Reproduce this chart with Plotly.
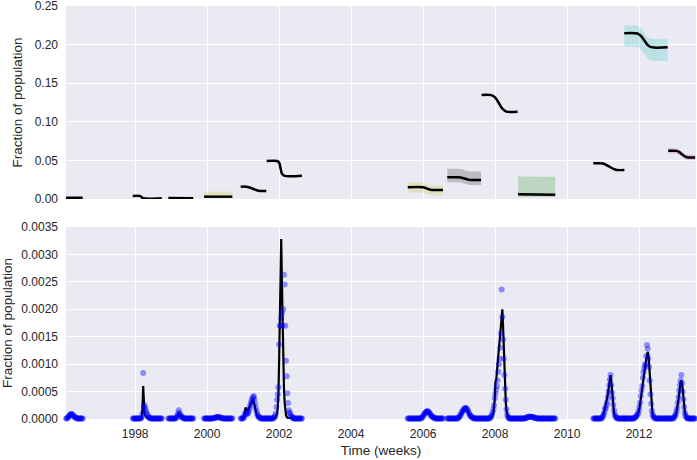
import numpy as np
import pandas as pd
import plotly.graph_objects as go

# ---------------- DATA ----------------
# Season start dates (weekly series begin here)
season_starts = ["1996-01-31", "1997-12-08", "1998-12-04", "1999-12-01", "2000-12-07",
                 "2001-08-28", "2005-07-29", "2006-09-03", "2007-08-18", "2008-08-21",
                 "2010-09-24", "2011-08-04", "2012-10-23"]

# Bottom panel: weekly observed incidence and model fit, in units of 1e-5 of population
obs_1996 = [1,1,2,3,5,7,8,9,9,8,7,5,4,3,2,2,1,1,1,1,1,1,1,1,1]
mod_1996 = [1,1,2,3,4,6,8,9,9,8,7,5,4,3,2,1,1,1,1,1,1,1,1,1,1]
obs_1998 = [1,1,1,1,1,1,1,1,1,1,1,1,2,3,10,84,22,25,20,15,11,8,5,3,2,2,
            1,1,1,1,1,1,1,1,1,1,1,1,1,1,1,1,1]
mod_1998 = [1,1,1,1,1,1,1,1,1,1,1,1,1,3,20,60,20,10,6,4,3,2,2,
            1,1,1,1,1,1,1,1,1,1,1,1,1,1,1,1,1,1,1,1]
obs_1999 = [1,1,1,1,1,1,1,1,1,1,1,2,3,6,10,16,11,8,6,4,3,2,2,
            1,1,1,1,1,1,1,1,1,1,1,1,1,1]
mod_1999 = [1,1,1,1,1,1,1,1,1,1,1,2,3,5,8,10,9,7,5,3,2,2,1,
            1,1,1,1,1,1,1,1,1,1,1,1,1,1]
obs_2000 = [1,1,1,1,1,1,1,1,1,1,1,1,1,1,2,2,2,3,3,3,4,3,3,3,2,2,2,
            1,1,1,1,1,1,1,1,1,1,1,1,1,1,1]
mod_2000 = [1,1,1,1,1,1,1,1,1,1,1,1,1,1,1,2,2,2,3,3,3,3,3,2,2,2,1,
            1,1,1,1,1,1,1,1,1,1,1,1,1,1,1]
obs_2001 = [1,1,1,1,2,4,8,12,10,9,10,12,16,20,25,30,34,38,40,42,36,28,20,14,9,6,4,3,2,
            1,1,1,1,1,1,1,1,1]
mod_2001 = [1,1,1,1,2,4,10,21,18,15,15,17,20,24,28,31,33,35,35,32,26,19,12,7,4,3,2,1,1,
            1,1,1,1,1,1,1,1,1]
obs_2002 = [1,1,1,1,1,1,1,1,1,1,2,3,5,10,22,35,45,58,136,170,170,184,193,170,200,263,245,
            170,106,78,47,29,16,12,10,6,4,3,2,1,1,1,1,1,1,1,1,1,1,1,1,1]
mod_2002 = [1,1,1,1,1,1,1,1,1,1,1,1,2,3,6,10,20,45,110,220,320,328,250,160,95,55,30,15,7,4,2,
            1,1,1,1,1,1,1,1,1,1,1,1,1,1,1,1,1,1,1,1,1]
obs_2006 = [1,1,1,1,1,1,1,1,1,1,1,1,1,1,1,1,1,1,1,1,2,3,5,7,9,11,12,13,14,14,13,12,10,8,6,5,4,3,2,2,
            1,1,1,1,1,1,1,1,1,1,1,1]
mod_2006 = [1,1,1,1,1,1,1,1,1,1,1,1,1,1,1,1,1,1,1,1,2,3,4,6,8,11,14,16,15,14,13,11,9,7,5,4,3,2,2,1,
            1,1,1,1,1,1,1,1,1,1,1,1]
obs_2007 = [1,1,1,1,1,1,1,1,1,1,1,1,1,1,1,1,2,3,5,7,9,12,14,16,18,19,20,20,19,17,15,12,9,7,5,4,3,2,2,
            1,1,1,1,1,1,1,1,1,1,1]
mod_2007 = [1,1,1,1,1,1,1,1,1,1,1,1,1,1,1,1,2,3,4,6,8,11,13,15,17,19,20,21,19,17,14,11,8,6,4,3,2,2,1,
            1,1,1,1,1,1,1,1,1,1,1]
obs_2008 = [1,1,1,1,1,1,1,1,1,1,1,1,2,3,5,8,12,18,25,38,46,54,60,70,86,100,110,130,156,236,186,145,
            110,80,55,35,18,8,4,2,1,1,1,1,1,1,1,1,1,1,1,1,1]
mod_2008 = [1,1,1,1,1,1,1,1,1,1,1,1,1,2,3,5,8,12,20,35,68,70,85,100,115,130,145,160,175,190,200,170,
            130,90,55,30,15,8,4,2,1,1,1,1,1,1,1,1,1,1,1,1,1]
obs_2009 = [1,1,1,1,1,1,1,1,1,1,1,2,2,3,3,4,4,4,4,4,4,3,3,3,2,2,2,
            1,1,1,1,1,1,1,1,1,1,1,1,1,1,1,1,1,1,1,1,1,1,1,1,1,1,1,1]
mod_2009 = [1,1,1,1,1,1,1,1,1,1,1,1,2,2,3,3,3,4,4,4,3,3,3,2,2,2,1,
            1,1,1,1,1,1,1,1,1,1,1,1,1,1,1,1,1,1,1,1,1,1,1,1,1,1,1,1]
obs_2011 = [1,1,1,1,1,1,1,1,1,1,1,1,1,3,5,8,12,19,19,25,30,40,50,62,72,80,62,48,38,26,16,9,5,3,2,
            1,1,1,1,1,1,1,1,1,1,1]
mod_2011 = [1,1,1,1,1,1,1,1,1,1,1,1,1,3,6,10,15,22,30,35,38,45,55,68,78,80,70,52,34,20,11,6,3,2,
            1,1,1,1,1,1,1,1,1,1,1,1]
obs_2012 = [1,1,1,1,1,1,1,1,1,1,1,1,1,1,1,2,3,4,6,8,10,15,22,30,42,52,60,75,85,92,98,100,115,135,128,
            110,95,70,45,28,15,8,5,3,2,1,1,1,1,1,1,1,1,1,1,1,1,1,1,1,1,1,1,1]
mod_2012 = [1,1,1,1,1,1,1,1,1,1,1,1,1,1,1,2,3,4,5,7,10,14,20,28,38,50,62,72,82,90,96,102,110,118,122,
            118,100,75,50,30,17,9,5,3,2,1,1,1,1,1,1,1,1,1,1,1,1,1,1,1,1,1,1,1]
obs_2013 = [1,1,1,1,1,1,1,1,2,4,6,9,14,20,30,40,52,62,70,80,65,50,36,22,12,7,4,2,
            1,1,1,1,1,1,1,1,1,1,1,1]
mod_2013 = [1,1,1,1,1,1,1,1,2,3,5,8,12,18,26,36,48,60,68,70,66,54,38,24,14,8,4,2,
            1,1,1,1,1,1,1,1,1,1,1,1]

observed = [obs_1996, obs_1998, obs_1999, obs_2000, obs_2001, obs_2002, obs_2006,
            obs_2007, obs_2008, obs_2009, obs_2011, obs_2012, obs_2013]
modelled = [mod_1996, mod_1998, mod_1999, mod_2000, mod_2001, mod_2002, mod_2006,
            mod_2007, mod_2008, mod_2009, mod_2011, mod_2012, mod_2013]
UNIT = 1e-5

# Top panel: susceptible fraction at key weeks of each season (mean, lower, upper)
top_weeks = [[0, 24], [0, 11, 13, 15, 42], [0, 36], [0, 41], [0, 8, 14, 20, 26, 37],
             [0, 15, 18, 20, 22, 25, 51], [0, 22, 26, 30, 35, 51], [0, 17, 22, 26, 30, 34, 49],
             [0, 14, 20, 25, 30, 36, 52], [0, 54], [0, 14, 20, 25, 30, 34, 45],
             [0, 19, 24, 29, 34, 39, 63], [0, 12, 16, 20, 24, 27, 39]]
top_mean = [[0.0017, 0.0015], [0.0039, 0.0038, 0.0022, 0.0009, 0.0009], [0.0012, 0.0009],
            [0.0030, 0.0030], [0.0160, 0.0160, 0.0145, 0.0125, 0.0106, 0.0104],
            [0.0492, 0.0492, 0.0470, 0.0400, 0.0330, 0.0302, 0.0302],
            [0.0152, 0.0152, 0.0142, 0.0128, 0.0117, 0.0117],
            [0.0281, 0.0281, 0.0272, 0.0262, 0.0252, 0.0246, 0.0246],
            [0.1347, 0.1345, 0.1310, 0.1240, 0.1170, 0.1132, 0.1130],
            [0.0062, 0.0055],
            [0.0462, 0.0460, 0.0435, 0.0410, 0.0388, 0.0376, 0.0376],
            [0.2146, 0.2143, 0.2115, 0.2055, 0.1995, 0.1967, 0.1965],
            [0.0625, 0.0623, 0.0607, 0.0578, 0.0552, 0.0541, 0.0539]]
top_lo = [[0.0007, 0.0006], [0.0033, 0.0032, 0.0016, 0.0004, 0.0004], [0.0007, 0.0004],
          [0.0018, 0.0018], [0.0152, 0.0152, 0.0137, 0.0117, 0.0098, 0.0096],
          [0.0484, 0.0484, 0.0462, 0.0392, 0.0322, 0.0294, 0.0294],
          [0.0082, 0.0082, 0.0072, 0.0058, 0.0047, 0.0047],
          [0.0216, 0.0216, 0.0207, 0.0197, 0.0187, 0.0181, 0.0181],
          [0.1335, 0.1333, 0.1298, 0.1228, 0.1158, 0.1120, 0.1118],
          [0.0025, 0.0025],
          [0.0450, 0.0448, 0.0423, 0.0398, 0.0376, 0.0364, 0.0364],
          [0.1973, 0.1970, 0.1940, 0.1880, 0.1820, 0.1795, 0.1790],
          [0.0590, 0.0588, 0.0572, 0.0543, 0.0517, 0.0506, 0.0504]]
top_hi = [[0.0027, 0.0025], [0.0045, 0.0044, 0.0028, 0.0014, 0.0014], [0.0017, 0.0014],
          [0.0095, 0.0095], [0.0168, 0.0168, 0.0153, 0.0133, 0.0114, 0.0112],
          [0.0500, 0.0500, 0.0478, 0.0408, 0.0338, 0.0310, 0.0310],
          [0.0212, 0.0212, 0.0202, 0.0188, 0.0177, 0.0177],
          [0.0391, 0.0391, 0.0382, 0.0372, 0.0362, 0.0356, 0.0356],
          [0.1359, 0.1357, 0.1322, 0.1252, 0.1182, 0.1144, 0.1142],
          [0.0290, 0.0287],
          [0.0474, 0.0472, 0.0447, 0.0422, 0.0400, 0.0388, 0.0388],
          [0.2248, 0.2245, 0.2215, 0.2155, 0.2095, 0.2075, 0.2073],
          [0.0660, 0.0658, 0.0642, 0.0613, 0.0587, 0.0576, 0.0574]]

top_ticks = [0.00, 0.05, 0.10, 0.15, 0.20, 0.25]
bottom_ticks = [0.0000, 0.0005, 0.0010, 0.0015, 0.0020, 0.0025, 0.0030, 0.0035]
year_ticks = ["1998", "2000", "2002", "2004", "2006", "2008", "2010", "2012"]

# ---------------- STYLE ----------------
band_colors = ["rgba(0,0,255,0.2)", "rgba(0,128,0,0.2)", "rgba(255,0,0,0.2)",
               "rgba(191,191,0,0.2)", "rgba(0,0,0,0.2)", "rgba(0,0,255,0.2)",
               "rgba(191,191,0,0.2)", "rgba(0,0,0,0.2)", "rgba(0,0,255,0.2)",
               "rgba(0,128,0,0.2)", "rgba(255,0,0,0.2)", "rgba(0,191,191,0.2)",
               "rgba(191,0,191,0.2)"]
FONT = "Liberation Sans, Arial, sans-serif"
TXT = "#262626"

fig = go.Figure()

for i, start in enumerate(season_starts):
    t0 = pd.Timestamp(start)
    wk = np.array(top_weeks[i])
    tx = t0 + pd.to_timedelta(7 * wk, unit="D")
    fig.add_trace(go.Scatter(x=tx, y=top_lo[i], mode="lines", line=dict(width=0, shape="spline"),
                             hoverinfo="skip", showlegend=False, xaxis="x", yaxis="y"))
    fig.add_trace(go.Scatter(x=tx, y=top_hi[i], mode="lines", line=dict(width=0, shape="spline"),
                             fill="tonexty", fillcolor=band_colors[i], hoverinfo="skip",
                             showlegend=False, xaxis="x", yaxis="y"))
    fig.add_trace(go.Scatter(x=tx, y=top_mean[i], mode="lines",
                             line=dict(color="black", width=2.5, shape="spline"),
                             showlegend=False, xaxis="x", yaxis="y"))

for i, start in enumerate(season_starts):
    m = np.array(modelled[i]) * UNIT
    o = np.array(observed[i]) * UNIT
    dm = pd.date_range(start, periods=len(m), freq="7D")
    do = pd.date_range(start, periods=len(o), freq="7D")
    fig.add_trace(go.Scatter(x=dm, y=m, mode="lines", line=dict(color="black", width=2.2),
                             showlegend=False, xaxis="x2", yaxis="y2"))
    fig.add_trace(go.Scatter(x=do, y=o, mode="markers",
                             marker=dict(color="blue", size=6, opacity=0.4, line=dict(width=0)),
                             cliponaxis=False, showlegend=False, xaxis="x2", yaxis="y2"))

xrange = ["1996-01-30", "2013-08-01"]
axis_common = dict(showgrid=True, gridcolor="white", gridwidth=1.3, zeroline=False,
                   showline=False, ticks="", automargin=False, ticklabeloverflow="allow",
                   tickfont=dict(family=FONT, size=12, color=TXT))

fig.update_layout(
    width=697, height=460,
    margin=dict(l=66, r=1, t=6, b=41, autoexpand=False),
    paper_bgcolor="white", plot_bgcolor="#EAEAF2",
    showlegend=False,
    xaxis=dict(domain=[0, 1], anchor="y", range=xrange, showticklabels=False,
               tickvals=[y + "-01-01" for y in year_ticks], matches="x2", **axis_common),
    yaxis=dict(domain=[0.5327, 1], anchor="x", range=[0, 0.25], tickvals=top_ticks,
               tickformat=".2f", ticklabelstandoff=7,
               title=dict(text="Fraction of population", standoff=8,
                          font=dict(family=FONT, size=13.5, color=TXT)),
               **axis_common),
    xaxis2=dict(domain=[0, 1], anchor="y2", range=xrange,
                tickvals=[y + "-01-01" for y in year_ticks], ticktext=year_ticks,
                ticklabelstandoff=6,
                title=dict(text="Time (weeks)", standoff=5,
                           font=dict(family=FONT, size=13.5, color=TXT)),
                **axis_common),
    yaxis2=dict(domain=[0, 0.4649], anchor="x2", range=[0, 0.0035], tickvals=bottom_ticks,
                tickformat=".4f", ticklabelstandoff=7,
                title=dict(text="Fraction of population", standoff=6,
                           font=dict(family=FONT, size=13.5, color=TXT)),
                **axis_common),
)

fig.write_html("out.html", config={"displayModeBar": False},
               post_script="document.body.style.margin='0';document.body.style.overflow='hidden';")
